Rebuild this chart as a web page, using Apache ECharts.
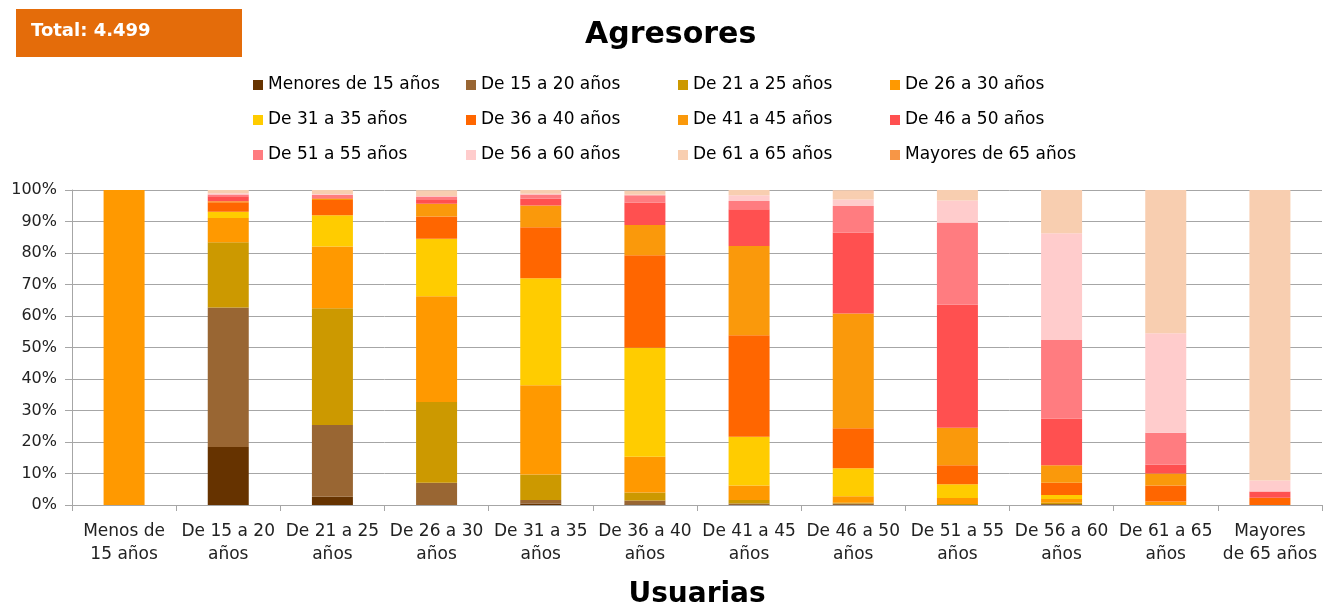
<!DOCTYPE html>
<html>
<head>
<meta charset="utf-8">
<script src="https://cdn.jsdelivr.net/npm/echarts@6/dist/echarts.min.js"></script>
<style>
html,body{margin:0;padding:0;background:#fff;}
#c{width:1324px;height:607px;}
</style>
</head>
<body>
<div id="c"></div>
<script>
const categories = ["Menos de\n15 años","De 15 a 20\naños","De 21 a 25\naños","De 26 a 30\naños","De 31 a 35\naños","De 36 a 40\naños","De 41 a 45\naños","De 46 a 50\naños","De 51 a 55\naños","De 56 a 60\naños","De 61 a 65\naños","Mayores\nde 65 años"];
const seriesNames = ["Menores de 15 años","De 15 a 20 años","De 21 a 25 años","De 26 a 30 años","De 31 a 35 años","De 36 a 40 años","De 41 a 45 años","De 46 a 50 años","De 51 a 55 años","De 56 a 60 años","De 61 a 65 años","Mayores de 65 años"];
const seriesColors = ["#663300","#996633","#CC9900","#FF9900","#FFCC00","#FF6600","#FA990B","#FF5050","#FF7C80","#FFCCCC","#F8CEB0","#F79646"];
const yTicks = [0,10,20,30,40,50,60,70,80,90,100];

const sMenores15 = [0,18.4,2.6,0,0.5,0.2,0,0,0,0,0,0];
const s15a20    = [0,44.3,22.8,7.1,1.1,1.2,0.5,0.5,0,0.3,0,0];
const s21a25    = [0,20.7,37.1,25.6,8.1,2.6,1.1,0.2,0.3,0.4,0,0];
const s26a30    = [100,7.7,19.6,33.6,28.3,11.3,4.6,2.1,1.9,1.2,1.1,0];
const s31a35    = [0,2.0,9.9,18.2,34.0,34.6,15.5,8.9,4.4,1.3,0,0];
const s36a40    = [0,3.0,4.8,7.1,16.2,29.4,32.2,12.7,6.0,3.9,5.1,2.3];
const s41a45    = [0,0.3,0.5,4.0,6.9,9.6,28.3,36.4,11.9,5.5,3.8,0];
const s46a50    = [0,1.6,0.4,1.5,2.1,7.1,11.7,25.7,39.1,14.9,2.8,2.0];
const s51a55    = [0,0.6,0.8,0.8,1.4,2.3,2.6,8.4,26.1,24.9,10.1,0];
const s56a60    = [0,0.4,0.2,0.2,0.2,0.2,1.8,2.1,7.0,33.9,31.6,3.5];
const s61a65    = [0,1.0,1.3,1.8,1.3,1.3,1.8,2.9,3.3,13.7,45.5,92.2];
const sMayores65= [0,0,0,0,0,0,0,0,0,0,0,0];
const seriesData = [sMenores15,s15a20,s21a25,s26a30,s31a35,s36a40,s41a45,s46a50,s51a55,s56a60,s61a65,sMayores65];

const FONT = "DejaVu Sans";
const chart = echarts.init(document.getElementById('c'), null, {renderer:'canvas'});

const colLeft = [253, 466, 678, 890];
const legends = [0,1,2,3].map(c => ({
  data: [seriesNames[c], seriesNames[c+4], seriesNames[c+8]],
  orient: 'vertical',
  left: colLeft[c],
  top: 75,
  padding: 0,
  itemWidth: 10,
  itemHeight: 10,
  itemGap: 15,
  icon: 'rect',
  textStyle: {fontFamily: FONT, fontSize: 17, color: '#000', lineHeight: 20}
}));

const option = {
  animation: false,
  color: seriesColors,
  title: {
    text: 'Agresores', left: 585, top: 20, padding: 0,
    textStyle: {fontFamily: FONT, fontSize: 30, fontWeight: 'bold', color: '#000'}
  },
  legend: legends,
  graphic: [
    {type:'rect', left:16, top:9, shape:{width:226, height:48}, style:{fill:'#E46C0A'}},
    {type:'text', left:31, top:22, style:{text:'Total: 4.499', fill:'#fff', font:'bold 18px "DejaVu Sans"'}}
  ],
  grid: {left: 72, right: 2, top: 190, bottom: 102, outerBoundsMode: 'none', containLabel: false},
  xAxis: {
    type: 'category',
    data: categories,
    name: 'Usuarias',
    nameLocation: 'middle',
    nameGap: 76,
    nameTextStyle: {fontFamily: FONT, fontSize: 28, fontWeight: 'bold', color: '#000'},
    axisLine: {lineStyle: {color: '#A6A6A6', width: 1}},
    axisTick: {show: true, length: 6, lineStyle: {color: '#A6A6A6'}},
    axisLabel: {fontFamily: FONT, fontSize: 17, color: '#222', margin: 15, lineHeight: 23, interval: 0}
  },
  yAxis: {
    type: 'value',
    min: 0, max: 100, interval: 10,
    axisLine: {show: true, lineStyle: {color: '#A6A6A6'}},
    axisTick: {show: true, length: 7, lineStyle: {color: '#A6A6A6'}},
    splitLine: {lineStyle: {color: '#A6A6A6', width: 1}},
    axisLabel: {fontFamily: FONT, fontSize: 16, color: '#222', margin: 15,
      formatter: v => yTicks.includes(v) ? v + '%' : ''}
  },
  series: seriesNames.map((n, i) => ({
    name: n,
    type: 'bar',
    stack: 'total',
    barWidth: 41,
    data: seriesData[i],
    itemStyle: {color: seriesColors[i]}
  }))
};
chart.setOption(option);
</script>
</body>
</html>
